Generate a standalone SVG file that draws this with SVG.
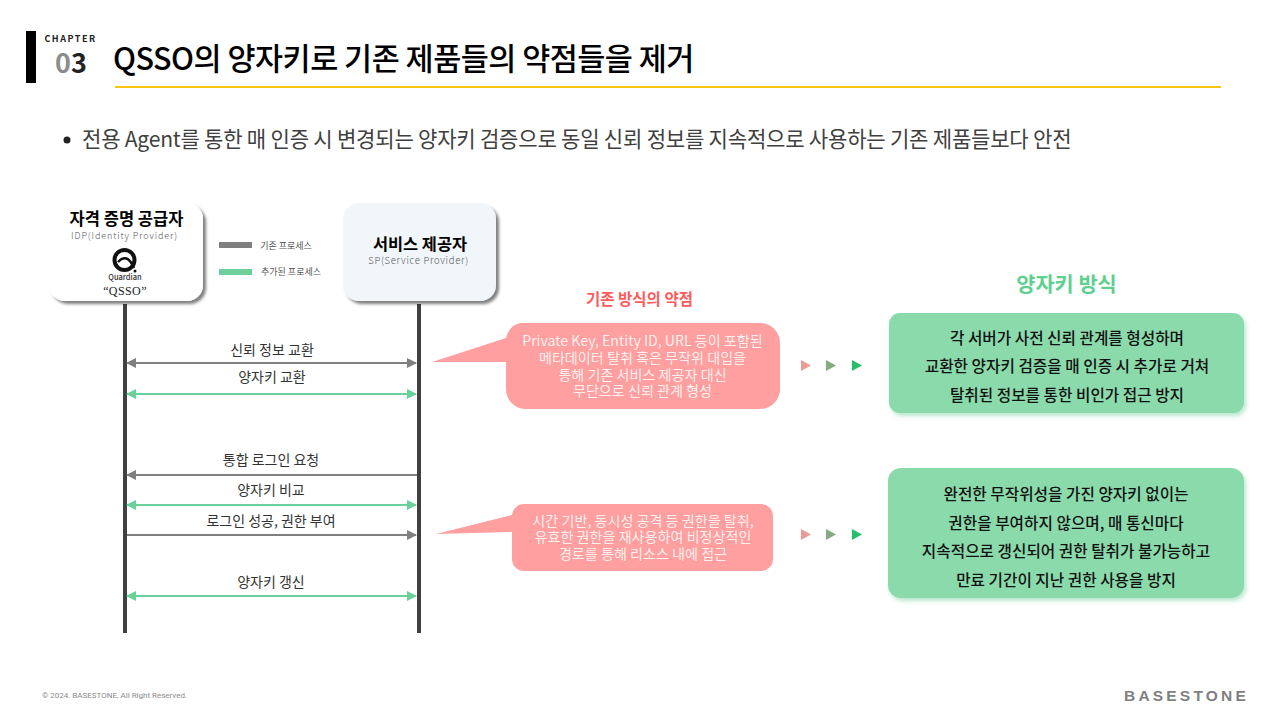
<svg xmlns="http://www.w3.org/2000/svg" width="1280" height="720" viewBox="0 0 1280 720">
<defs>
<style>
text{font-family:"Noto Sans CJK KR","Noto Sans",sans-serif;text-anchor:middle}
.lbl{font-size:14px;fill:#333}
.co{font-size:14.1px;fill:#fff;font-weight:400;fill-opacity:.85}
.gr{font-size:15.7px;fill:#111;font-weight:500}
.gl{stroke:#7f7f7f;stroke-width:2;fill:none}
.nl{stroke:#6bd09a;stroke-width:2;fill:none}
.life{stroke:#404040;stroke-width:4}
</style>
<marker id="ag" viewBox="0 0 10 10" refX="9" refY="5" markerWidth="10" markerHeight="10" markerUnits="userSpaceOnUse" orient="auto-start-reverse"><path d="M0 0L10 5L0 10Z" fill="#7f7f7f"/></marker>
<marker id="an" viewBox="0 0 10 10" refX="9" refY="5" markerWidth="10" markerHeight="10" markerUnits="userSpaceOnUse" orient="auto-start-reverse"><path d="M0 0L10 5L0 10Z" fill="#6bd09a"/></marker>
<filter id="sh" x="-10%" y="-10%" width="125%" height="125%"><feDropShadow dx="3" dy="3" stdDeviation="1.5" flood-color="#000" flood-opacity=".5"/></filter>
<filter id="sg" x="-5%" y="-10%" width="110%" height="125%"><feDropShadow dx="2" dy="3" stdDeviation="2" flood-color="#8ad9ab" flood-opacity=".6"/></filter>
</defs>
<rect width="1280" height="720" fill="#fff"/>
<g id="header">
<rect x="26" y="31" width="10" height="52" fill="#000"/>
<text x="70.500" y="42" style="font-size:9px;font-weight:700;letter-spacing:1.5px;fill:#222">CHAPTER</text>
<text x="71" y="73" style="font-size:27px;font-weight:700"><tspan fill="#8c8c8c">0</tspan><tspan fill="#222">3</tspan></text>
<text x="113" y="70" style="text-anchor:start;font-size:30.500px;font-weight:500;fill:#000;letter-spacing:-.5px">QSSO의 양자키로 기존 제품들의 약점들을 제거</text>
<rect x="115" y="86" width="1106" height="2" fill="#f9c50f"/>
<circle cx="67" cy="140" r="3.500" fill="#222"/>
<text x="82" y="147" style="text-anchor:start;font-size:21.100px;fill:#404040;letter-spacing:-.25px">전용 Agent를 통한 매 인증 시 변경되는 양자키 검증으로 동일 신뢰 정보를 지속적으로 사용하는 기존 제품들보다 안전</text>
</g>
<g id="connectors">
<line class="life" x1="125" y1="304" x2="125" y2="633"/>
<line class="life" x1="419" y1="304" x2="419" y2="633"/>
<line class="gl" x1="127" y1="363" x2="416" y2="363" marker-start="url(#ag)" marker-end="url(#ag)"/>
<line class="nl" x1="127" y1="394" x2="416" y2="394" marker-start="url(#an)" marker-end="url(#an)"/>
<line class="gl" x1="127" y1="475" x2="417" y2="475" marker-start="url(#ag)"/>
<line class="nl" x1="127" y1="505" x2="416" y2="505" marker-start="url(#an)" marker-end="url(#an)"/>
<line class="gl" x1="127" y1="535" x2="416" y2="535" marker-end="url(#ag)"/>
<line class="nl" x1="127" y1="596" x2="416" y2="596" marker-start="url(#an)" marker-end="url(#an)"/>
</g>
<g id="msgs">
<text class="lbl" x="272" y="355">신뢰 정보 교환</text>
<text class="lbl" x="272" y="382">양자키 교환</text>
<text class="lbl" x="271" y="465">통합 로그인 요청</text>
<text class="lbl" x="271" y="495">양자키 비교</text>
<text class="lbl" x="271" y="526">로그인 성공, 권한 부여</text>
<text class="lbl" x="271" y="587">양자키 갱신</text>
</g>
<g id="idp">
<rect x="49" y="203" width="154" height="98" rx="16" fill="#fff" filter="url(#sh)"/>
<text x="126.500" y="225" style="font-size:16.500px;font-weight:700;fill:#000">자격 증명 공급자</text>
<text x="124.500" y="239" style="font-size:9px;fill:#555;letter-spacing:.9px;font-weight:300">IDP(Identity Provider)</text>
<circle cx="124.500" cy="260" r="10" fill="none" stroke="#111" stroke-width="4"/>
<path d="M118 262Q127 252 134 268" fill="none" stroke="#111" stroke-width="2.500"/>
<circle cx="135" cy="271" r="1.500" fill="#111"/>
<text x="125" y="280" style="font-size:7.500px;font-weight:500;fill:#333">Quardian</text>
<text x="125" y="295" style="font-size:12px;font-weight:500;fill:#222;letter-spacing:.4px;font-family:'Liberation Serif',serif">“QSSO”</text>
</g>
<g id="sp">
<rect x="343" y="203" width="153" height="98" rx="16" fill="#f1f6fa" filter="url(#sh)"/>
<text x="420" y="250" style="font-size:16.400px;font-weight:700;fill:#000">서비스 제공자</text>
<text x="418.500" y="264" style="font-size:9.500px;fill:#555;letter-spacing:.7px;font-weight:300">SP(Service Provider)</text>
</g>
<g id="legend">
<rect x="219" y="242" width="33" height="6" fill="#7f7f7f"/>
<text x="286" y="249" style="font-size:9px;fill:#555">기존 프로세스</text>
<rect x="219" y="269" width="33" height="6" fill="#6bd09a"/>
<text x="291" y="275" style="font-size:9px;fill:#555">추가된 프로세스</text>
</g>
<g id="weak1">
<text x="639.500" y="305" style="font-size:15.500px;font-weight:700;fill:#ff5b5b">기존 방식의 약점</text>
<path d="M520 323H760A20 20 0 0 1 780 343V389A20 20 0 0 1 760 409H526A20 20 0 0 1 506 389V362L432 362L506 338A20 20 0 0 1 520 323Z" fill="#ff9f9f"/>
<text class="co"><tspan x="642.500" y="346">Private Key, Entity ID, URL 등이 포함된</tspan><tspan x="642.500" y="363">메타데이터 탈취 혹은 무작위 대입을</tspan><tspan x="642.500" y="380">통해 기존 서비스 제공자 대신</tspan><tspan x="642.500" y="396">무단으로 신뢰 관계 형성</tspan></text>
</g>
<g id="weak2">
<path d="M524 504H761A12 12 0 0 1 773 516V559A12 12 0 0 1 761 571H524A12 12 0 0 1 512 559V532L436 534L512 515A12 12 0 0 1 524 504Z" fill="#ff9f9f"/>
<text class="co"><tspan x="643" y="526">시간 기반, 동시성 공격 등 권한을 탈취,</tspan><tspan x="643" y="542">유효한 권한을 재사용하여 비정상적인</tspan><tspan x="643" y="559">경로를 통해 리소스 내에 접근</tspan></text>
</g>
<g id="arrows">
<path d="M801 360L811 365.500L801 371Z" fill="#ec9a96"/><path d="M826 360L836 365.500L826 371Z" fill="#84ab7f"/><path d="M852 360L862 365.500L852 371Z" fill="#26bf6b"/>
<path d="M801 529L811 534.500L801 540Z" fill="#ec9a96"/><path d="M826 529L836 534.500L826 540Z" fill="#84ab7f"/><path d="M852 529L862 534.500L852 540Z" fill="#26bf6b"/>
</g>
<g id="good1">
<text x="1066.500" y="292" style="font-size:20.800px;font-weight:700;fill:#5fd08f">양자키 방식</text>
<rect x="889" y="313" width="355" height="100" rx="11" fill="#8adaab" filter="url(#sg)"/>
<text class="gr" x="1067" y="344">각 서버가 사전 신뢰 관계를 형성하며</text>
<text class="gr" x="1067" y="372">교환한 양자키 검증을 매 인증 시 추가로 거쳐</text>
<text class="gr" x="1067" y="401">탈취된 정보를 통한 비인가 접근 방지</text>
</g>
<g id="good2">
<rect x="888" y="468" width="356" height="130" rx="13" fill="#8adaab" filter="url(#sg)"/>
<text class="gr" x="1066" y="500">완전한 무작위성을 가진 양자키 없이는</text>
<text class="gr" x="1066" y="529">권한을 부여하지 않으며, 매 통신마다</text>
<text class="gr" x="1066" y="557">지속적으로 갱신되어 권한 탈취가 불가능하고</text>
<text class="gr" x="1066" y="586">만료 기간이 지난 권한 사용을 방지</text>
</g>
<g id="footer">
<text x="114.500" y="698" style="font-size:8px;fill:#8c8c8c;font-family:Roboto,sans-serif">© 2024. BASESTONE, All Right Reserved.</text>
<text x="1186.500" y="701" style="font-size:15.500px;font-weight:700;fill:#7f7f7f;letter-spacing:3.200px;font-family:'Liberation Sans',sans-serif">BASESTONE</text>
</g>
</svg>
